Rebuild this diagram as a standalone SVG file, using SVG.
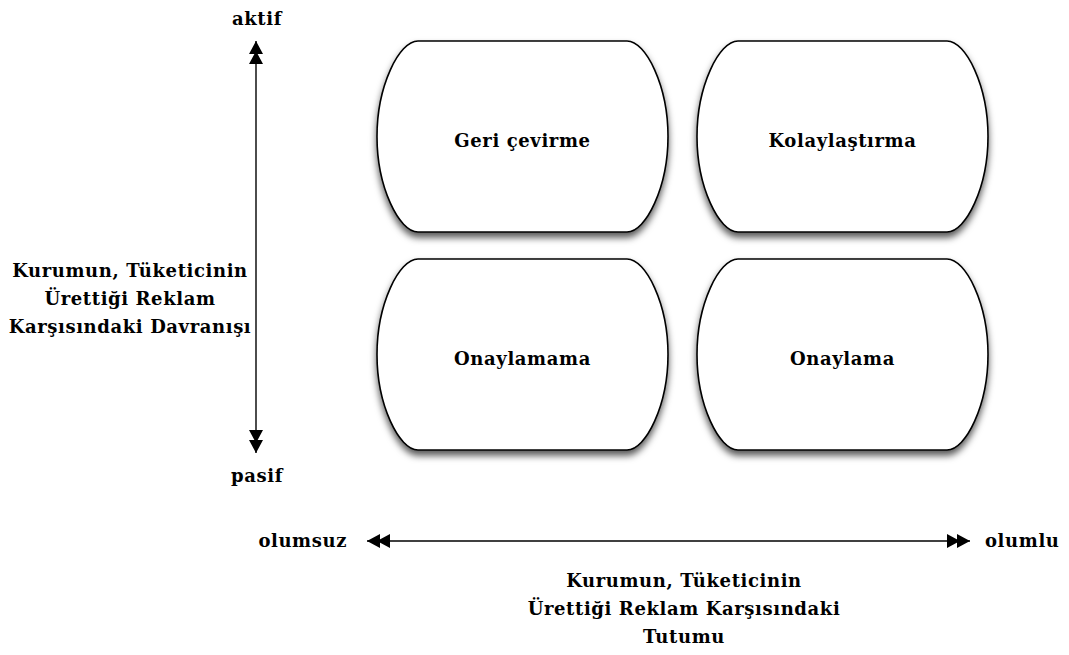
<svg xmlns="http://www.w3.org/2000/svg" width="1069" height="655" viewBox="0 0 1069 655">
  <style>
    text { font-family: "DejaVu Serif", "Liberation Serif", serif; font-weight: bold; font-size: 18px; letter-spacing: 0.6px; fill: #000; }
    .mid { text-anchor: middle; }
    .node path { fill: #fff; stroke: #000; stroke-width: 1.6; filter: url(#shadow); }
    .axis { stroke: #000; stroke-width: 1.4; fill: none; marker-start: url(#dbl); marker-end: url(#dbl); }
  </style>
  <defs>
    <filter id="shadow" x="-10%" y="-10%" width="120%" height="125%">
      <feDropShadow dx="0" dy="5" stdDeviation="3.5" flood-color="#000" flood-opacity="0.65"/>
    </filter>
    <!-- double filled arrowhead, tip at refX -->
    <marker id="dbl" viewBox="-1 -8 26 16" refX="23" refY="0" markerWidth="26" markerHeight="16" markerUnits="userSpaceOnUse" orient="auto-start-reverse">
      <path d="M0,-7 L13,0 L0,7 Z M10,-7 L23,0 L10,7 Z" fill="#000"/>
    </marker>
  </defs>
  <rect width="1069" height="655" fill="#fff"/>

  <g id="connectors">
    <line class="axis" x1="256" y1="41" x2="256" y2="453"/>
    <line class="axis" x1="367" y1="541" x2="970" y2="541"/>
  </g>

  <!-- barrel-shaped boxes, 291 x 191 each -->
  <g id="node-geri-cevirme" class="node" transform="translate(377,41)">
    <path d="M41,0 H250 C269,0 291,45 291,95.5 C291,146 269,191 250,191 H41 C22,191 0,146 0,95.5 C0,45 22,0 41,0 Z"/>
    <text class="mid" x="145.5" y="106">Geri çevirme</text>
  </g>
  <g id="node-kolaylastirma" class="node" transform="translate(697,41)">
    <path d="M41,0 H250 C269,0 291,45 291,95.5 C291,146 269,191 250,191 H41 C22,191 0,146 0,95.5 C0,45 22,0 41,0 Z"/>
    <text class="mid" x="145.5" y="106">Kolaylaştırma</text>
  </g>
  <g id="node-onaylamama" class="node" transform="translate(377,259)">
    <path d="M41,0 H250 C269,0 291,45 291,95.5 C291,146 269,191 250,191 H41 C22,191 0,146 0,95.5 C0,45 22,0 41,0 Z"/>
    <text class="mid" x="145.5" y="106">Onaylamama</text>
  </g>
  <g id="node-onaylama" class="node" transform="translate(697,259)">
    <path d="M41,0 H250 C269,0 291,45 291,95.5 C291,146 269,191 250,191 H41 C22,191 0,146 0,95.5 C0,45 22,0 41,0 Z"/>
    <text class="mid" x="145.5" y="106">Onaylama</text>
  </g>

  <g id="labels">
    <text class="mid" x="257" y="25">aktif</text>
    <text class="mid" x="257" y="482">pasif</text>
    <text x="347" y="547" text-anchor="end">olumsuz</text>
    <text x="985" y="547">olumlu</text>
    <text class="mid" x="130" y="277">Kurumun, Tüketicinin</text>
    <text class="mid" x="130" y="305">Ürettiği Reklam</text>
    <text class="mid" x="130" y="333">Karşısındaki Davranışı</text>
    <text class="mid" x="684" y="587">Kurumun, Tüketicinin</text>
    <text class="mid" x="684" y="615">Ürettiği Reklam Karşısındaki</text>
    <text class="mid" x="684" y="643">Tutumu</text>
  </g>
</svg>
